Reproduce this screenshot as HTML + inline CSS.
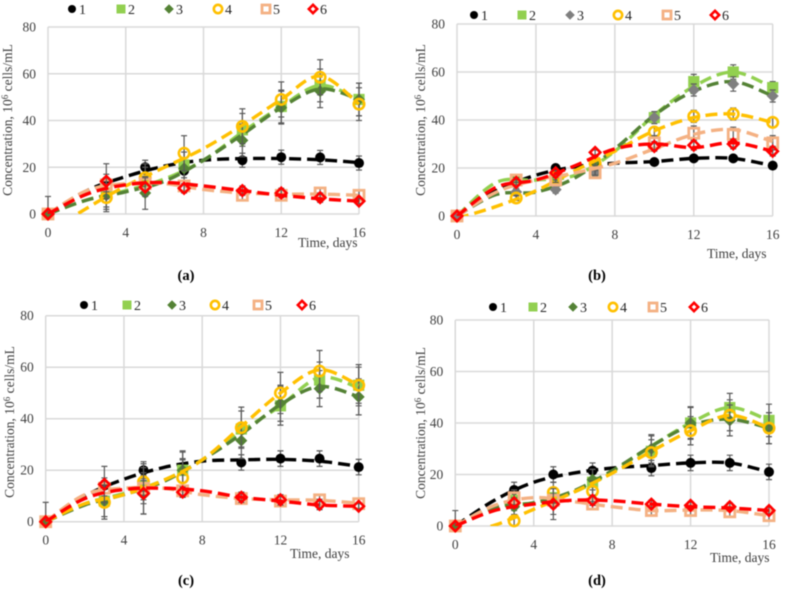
<!DOCTYPE html>
<html lang="en">
<head>
<meta charset="utf-8">
<title>Cell concentration over time, panels a to d</title>
<style>
html,body{margin:0;padding:0;background:#fff;width:785px;height:591px;overflow:hidden}
svg{display:block;filter:blur(0.4px)}
text{font-family:"Liberation Serif",serif;fill:#404040}
.tick{font-size:13.5px}
.title{font-size:13.5px}
.legend{font-size:14px;fill:#262626}
.caption{font-size:14.5px;font-weight:bold;fill:#000}
</style>
</head>
<body>
<svg id="figure" width="785" height="591" viewBox="0 0 785 591" xmlns="http://www.w3.org/2000/svg"></svg>
<script>
const days = [0, 3, 5, 7, 10, 12, 14, 16];
const trendDays = [0, 2, 4, 6, 8, 10, 12, 14, 16];
const xTickLabels = [0, 4, 8, 12, 16];
const yTickLabels = [0, 20, 40, 60, 80];
const seriesNames = ['1', '2', '3', '4', '5', '6'];

const valuesA = [
  [0, 14, 20, 18.5, 23, 24.3, 24.2, 21.8],
  [0, 9, 14, 21, 36, 46, 55, 49],
  [0, 8, 9, 19.5, 31.5, 45.5, 52.5, 49],
  [0, 7, 15.5, 26, 37.5, 49, 58.5, 47],
  [0, 12.5, 13, 12, 8, 8, 9, 8],
  [0, 14, 11.5, 11, 10, 9, 7, 5.5]
];
const errorsA = [
  [0, 3, 3, 3, 3, 3, 3, 3],
  [0, 6, 6, 7, 7, 7, 7, 7],
  [0, 6, 7, 7, 7, 7, 7, 7],
  [0, 6, 6, 7.5, 7.5, 7.5, 7.5, 7],
  [0, 3, 3, 2, 2, 2, 2, 2],
  [7.5, 7.5, 4, 2, 2, 2, 2, 1]
];
const trendsA = [
  [0, 10, 16, 20.5, 23, 23.7, 23.7, 23.2, 22],
  [0, 6, 10, 15, 23, 35, 46, 55, 49],
  [0, 6, 9.5, 14, 23, 34, 45.5, 53.5, 49],
  [-8, 2.5, 12, 20, 28, 38, 49, 59, 47],
  [0, 10, 13, 13, 10.5, 9, 8.5, 8.5, 8],
  [0, 8.5, 12.5, 13.5, 12, 10, 8, 6.5, 5.5]
];

const valuesB = [
  [0, 15, 20, 20, 22.5, 24, 24, 21],
  [0, 15, 15, 19, 41, 56, 60, 53.5],
  [0, 10, 11, 18, 41, 52.5, 55, 50],
  [0, 7.5, 16, 22, 35, 41.5, 42.5, 39],
  [0, 15, 15, 18, 30.5, 34.5, 34, 30.5],
  [0, 14, 18, 26.5, 29, 29.5, 30, 27]
];
const errorsB = [
  [0, 1, 1, 1, 1, 1, 1, 1],
  [0, 1, 1, 1, 2, 3, 3, 2.5],
  [0, 1.5, 1.5, 1.5, 2.5, 2.5, 3, 2.5],
  [0, 1, 1, 1, 2, 2.5, 2.5, 2],
  [0, 1, 1, 1, 3, 3, 3, 3],
  [0, 1, 1, 1, 2, 2, 2, 2]
];
const trendsB = [
  [0, 10.5, 17, 20.5, 22, 22.7, 24, 24, 21],
  [0, 14, 15, 17, 27, 42, 54, 60, 53.5],
  [0, 9, 10, 16, 28, 42, 52, 56, 50],
  [-1, 4, 10.5, 19, 27, 35.5, 41, 42.5, 39],
  [0, 10, 15, 18, 22, 28, 34, 36, 31],
  [0, 12, 15, 21, 28, 30, 28.5, 30.5, 27]
];

const valuesC = [
  [0, 14, 20, 21, 23, 24.5, 24.5, 21.2],
  [0, 8, 14, 20, 36, 45, 55, 53],
  [0, 8, 10.5, 20, 31.5, 46, 51.7, 48.5],
  [0, 7.5, 15.5, 17, 36.5, 50, 58.5, 53],
  [0, 13, 13, 12, 9, 8, 8.5, 7],
  [0, 14.5, 11, 11.5, 9.5, 8.5, 6.7, 6]
];
const errorsC = [
  [0, 3, 3.3, 3, 3, 3, 3, 3],
  [0, 6, 7, 7, 7, 7.5, 7, 7],
  [0, 6, 7.5, 7.5, 7, 7, 7, 7],
  [0, 6.5, 7, 7.5, 8, 8, 8, 8],
  [0, 3, 3, 2, 2, 2, 2, 2],
  [7.5, 7, 8, 2, 2, 2, 2, 1]
];
const trendsC = [
  [0, 10, 16.5, 21, 23.5, 24, 24.2, 23.5, 21.5],
  [0, 7, 11, 16, 24, 35, 45, 56, 52],
  [0, 6.5, 10.5, 15.5, 24, 34, 45.5, 52.5, 48.5],
  [0, 7, 10.5, 16, 24, 37, 50, 59, 53],
  [0, 10.5, 13, 13, 10.5, 9, 8.5, 8.3, 7.2],
  [0, 9, 12.5, 13, 12, 9.5, 8, 6.5, 6]
];

const valuesD = [
  [0, 14, 20, 21.5, 22.5, 24.5, 24.5, 21],
  [0, 10, 11, 17, 29, 40, 46, 41],
  [0, 7.5, 8.5, 18, 30, 40, 41, 38],
  [0, 2, 13, 13.5, 28.5, 37, 43, 38],
  [0, 11, 10, 8.5, 6, 6, 5.5, 4],
  [0, 9, 8.5, 10, 8.5, 8, 7.5, 6]
];
const errorsD = [
  [0, 3, 3, 3, 3, 3, 3, 3],
  [0, 4, 4, 5, 6, 6.3, 5.5, 6.3],
  [0, 3, 4, 4, 5.5, 6, 6, 6],
  [0, 2, 4, 4, 5, 5.5, 6, 6],
  [0, 3, 2, 2, 2, 2, 2, 2],
  [6, 2, 6, 2, 1.5, 1.5, 1.5, 1.5]
];
const trendsD = [
  [0, 10, 17, 20.5, 22.5, 23.5, 24.5, 24.5, 21],
  [0, 7.5, 9, 13, 21, 31, 40, 46, 41],
  [0, 7, 9, 13.5, 21.5, 31, 39, 41.5, 38],
  [-3, 0.3, 6.5, 13, 20.5, 29, 37, 43, 38],
  [0, 8, 11, 9.5, 7.5, 6, 6.2, 6, 4],
  [0, 6, 8.5, 10, 9.8, 8.5, 7.5, 7, 6]
];

const lineColors = ['#000000', '#92d050', '#548235', '#ffc000', '#f4b183', '#ff0000'];
const NS = 'http://www.w3.org/2000/svg';
const figure = document.getElementById('figure');

function make(parent, tag, attrs, text) {
  const el = document.createElementNS(NS, tag);
  for (const k in attrs) el.setAttribute(k, attrs[k]);
  if (text !== undefined) el.textContent = text;
  parent.appendChild(el);
  return el;
}

function smoothPath(points) {
  let d = 'M' + points[0][0].toFixed(2) + ' ' + points[0][1].toFixed(2);
  for (let i = 0; i < points.length - 1; i++) {
    const p0 = points[Math.max(i - 1, 0)];
    const p1 = points[i];
    const p2 = points[i + 1];
    const p3 = points[Math.min(i + 2, points.length - 1)];
    const c1x = p1[0] + (p2[0] - p0[0]) / 6;
    const c1y = p1[1] + (p2[1] - p0[1]) / 6;
    const c2x = p2[0] - (p3[0] - p1[0]) / 6;
    const c2y = p2[1] - (p3[1] - p1[1]) / 6;
    d += 'C' + [c1x, c1y, c2x, c2y, p2[0], p2[1]].map(n => n.toFixed(2)).join(' ');
  }
  return d;
}

function drawMarker(parent, index, cx, cy, fillOverride, scale) {
  const s = scale || 1;
  const color = fillOverride || lineColors[index];
  let m;
  if (index === 0) {
    m = make(parent, 'circle', {cx: cx, cy: cy, r: 5 * s, fill: color});
  } else if (index === 1) {
    const h = 5.6 * s;
    m = make(parent, 'rect', {x: cx - h, y: cy - h, width: 2 * h, height: 2 * h, fill: color});
  } else if (index === 2) {
    const h = 6 * s;
    m = make(parent, 'polygon', {points: [cx, cy - h, cx + h, cy, cx, cy + h, cx - h, cy].join(' '), fill: color});
  } else if (index === 3) {
    m = make(parent, 'circle', {cx: cx, cy: cy, r: 5.2 * s, fill: 'none', stroke: color, 'stroke-width': 2.6});
  } else if (index === 4) {
    const h = 5 * s;
    m = make(parent, 'rect', {x: cx - h, y: cy - h, width: 2 * h, height: 2 * h, fill: 'none', stroke: color, 'stroke-width': 2.8});
  } else {
    const h = 5.2 * s;
    m = make(parent, 'polygon', {points: [cx, cy - h, cx + h, cy, cx, cy + h, cx - h, cy].join(' '), fill: 'none', stroke: color, 'stroke-width': 2.6});
  }
  
  
}

function drawPanel(cfg) {
  const xScale = d => cfg.left + (d / 16) * (cfg.right - cfg.left);
  const yScale = v => cfg.bottom - (v / 80) * (cfg.bottom - cfg.top);

  const panel = make(figure, 'g', {});
  
  

  const clipId = 'clip-' + cfg.id;
  const clip = make(make(panel, 'defs', {}), 'clipPath', {id: clipId});
  make(clip, 'rect', {x: cfg.left - 8, y: cfg.top - 8, width: cfg.right - cfg.left + 16, height: cfg.bottom - cfg.top + 8});

  // gridlines
  [0, 4, 8, 12, 16].forEach(d => {
    const g = make(panel, 'line', {x1: xScale(d), x2: xScale(d), y1: cfg.top, y2: cfg.bottom, stroke: '#d9d9d9', 'stroke-width': 1.5});
    
    
  });
  [0, 20, 40, 60, 80].forEach(v => {
    const g = make(panel, 'line', {x1: cfg.left, x2: cfg.right, y1: yScale(v), y2: yScale(v), stroke: '#d9d9d9', 'stroke-width': 1.5});
    
    
  });

  // tick labels
  xTickLabels.forEach(d => {
    const t = make(panel, 'text', {x: xScale(d), y: cfg.bottom + 23, 'text-anchor': 'middle', class: 'tick'}, d);
    
    
  });
  yTickLabels.forEach(v => {
    const t = make(panel, 'text', {x: cfg.left - 12, y: yScale(v) + 4.5, 'text-anchor': 'end', class: 'tick'}, v);
    
    
  });

  // series
  cfg.values.forEach((vals, i) => {
    const group = make(panel, 'g', {});
    
    

    const errs = make(group, 'g', {'clip-path': 'url(#' + clipId + ')', stroke: '#595959', 'stroke-width': 1.2});
    
    
    vals.forEach((v, j) => {
      const e = cfg.errors[i][j];
      if (!e) return;
      const x = xScale(days[j]);
      const hi = yScale(v + e);
      const lo = yScale(v - e);
      make(errs, 'line', {x1: x, x2: x, y1: hi, y2: lo});
      make(errs, 'line', {x1: x - 3, x2: x + 3, y1: hi, y2: hi});
      make(errs, 'line', {x1: x - 3, x2: x + 3, y1: lo, y2: lo});
    });

    const pts = cfg.trends[i].map((v, j) => [xScale(trendDays[j]), yScale(v)]);
    const path = make(group, 'path', {
      d: smoothPath(pts), fill: 'none', stroke: lineColors[i], 'stroke-width': 3.4,
      'stroke-dasharray': '12 6', 'clip-path': 'url(#' + clipId + ')'
    });
    
    

    vals.forEach((v, j) => {
      drawMarker(group, i, xScale(days[j]), yScale(v), i === 2 ? cfg.series3Fill : null);
    });
  });

  // legend
  const legend = make(panel, 'g', {});
  
  
  cfg.legendX.forEach((lx, i) => {
    const entry = make(legend, 'g', {});
    
    
    drawMarker(entry, i, lx, cfg.legendY, i === 2 ? cfg.series3Fill : null, 0.8);
    make(entry, 'text', {x: lx + 7, y: cfg.legendY + 5, class: 'legend'}, seriesNames[i]);
  });

  // axis titles
  const xt = make(panel, 'text', {x: cfg.xTitle[0], y: cfg.xTitle[1], class: 'title'}, 'Time, days');
  
  

  const yt = make(panel, 'text', {
    x: 0, y: 0, 'text-anchor': 'middle', class: 'title',
    transform: 'translate(' + cfg.yTitle[0] + ' ' + cfg.yTitle[1] + ') rotate(-90)'
  });
  
  
  make(yt, 'tspan', {}, 'Concentration, 10');
  make(yt, 'tspan', {dy: -4, 'font-size': 9}, '6');
  make(yt, 'tspan', {dy: 4}, ' cells/mL');

  const cap = make(panel, 'text', {x: cfg.caption[0], y: cfg.caption[1], 'text-anchor': 'middle', class: 'caption'}, '(' + cfg.id + ')');
  
  
}

drawPanel({
  id: 'a', left: 48, right: 359, top: 27, bottom: 214,
  values: valuesA, errors: errorsA, trends: trendsA,
  legendX: [72, 121, 169, 218, 266, 313], legendY: 9,
  xTitle: [298, 247], yTitle: [12, 120], caption: [186, 280]
});
drawPanel({
  id: 'b', left: 457, right: 772.7, top: 24, bottom: 216,
  values: valuesB, errors: errorsB, trends: trendsB, series3Fill: '#7f7f7f',
  legendX: [474, 522, 570, 618, 667, 715], legendY: 15,
  xTitle: [707, 258], yTitle: [425, 120], caption: [597, 280]
});
drawPanel({
  id: 'c', left: 45.7, right: 358.7, top: 315.7, bottom: 521.7,
  values: valuesC, errors: errorsC, trends: trendsC,
  legendX: [84, 127, 172, 215, 258, 302], legendY: 305,
  xTitle: [290, 558], yTitle: [14, 422], caption: [186, 585]
});
drawPanel({
  id: 'd', left: 455.3, right: 769, top: 320, bottom: 526,
  values: valuesD, errors: errorsD, trends: trendsD,
  legendX: [493, 533, 573, 613, 653, 694], legendY: 307,
  xTitle: [710, 562], yTitle: [425, 423], caption: [597, 585]
});
</script>
</body>
</html>
